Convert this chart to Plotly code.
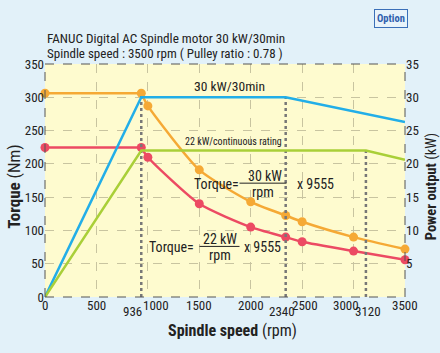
import plotly.graph_objects as go

# ---- data ----
speed_pts = [0, 936, 1000, 1500, 2000, 2340, 2500, 3000, 3500]
torque_30min = [306, 306, 287, 191, 143, 122.5, 113, 90, 72]
torque_cont = [224.5, 224.5, 210, 140, 105, 90, 83, 69, 56]

power_30min_x = [0, 936, 2340, 3500]
power_30min_y = [0, 30, 30, 26.3]
power_cont_x = [0, 936, 3120, 3500]
power_cont_y = [0, 22, 22, 20.6]

marker_x = [936, 2340, 3120]
marker_top_kw = [30.6, 30, 22]

x_ticks = [0, 500, 1000, 1500, 2000, 2500, 3000, 3500]
y_ticks = [0, 50, 100, 150, 200, 250, 300, 350]
y2_ticks = [5, 10, 15, 20, 25, 30, 35]

FONT = "Roboto Condensed, Liberation Sans Narrow, Arial Narrow, sans-serif"
ORANGE = "#f5a935"
RED = "#ec4a63"
BLUE = "#22aee8"
GREEN = "#a9cf38"
DOT = "#777777"
TXT = "#222222"

# label nudges (pixels) to mimic the reference's label placement
X_LABEL_SHIFT = {1000: 8, 2500: 3, 3000: -8}
LOW_LABEL_SHIFT = {936: -9, 2340: -4, 3120: 2}

fig = go.Figure()

# dotted vertical markers (on power axis)
for xv, top in zip(marker_x, marker_top_kw):
    fig.add_trace(go.Scatter(x=[xv, xv], y=[0, top], yaxis="y2", mode="lines",
                             line=dict(color=DOT, width=2.5, dash="dot"),
                             hoverinfo="skip", showlegend=False))

# power lines
fig.add_trace(go.Scatter(x=power_30min_x, y=power_30min_y, yaxis="y2", mode="lines",
                         line=dict(color=BLUE, width=2.5), showlegend=False))
fig.add_trace(go.Scatter(x=power_cont_x, y=power_cont_y, yaxis="y2", mode="lines",
                         line=dict(color=GREEN, width=2.5), showlegend=False))

# torque curves: flat part + hyperbolic part
for vals, col in [(torque_30min, ORANGE), (torque_cont, RED)]:
    fig.add_trace(go.Scatter(x=speed_pts[:2], y=vals[:2], mode="lines",
                             line=dict(color=col, width=2.5), showlegend=False))
    fig.add_trace(go.Scatter(x=speed_pts[1:], y=vals[1:], mode="lines",
                             line=dict(color=col, width=2.5, shape="spline", smoothing=0.6),
                             showlegend=False))
    fig.add_trace(go.Scatter(x=speed_pts, y=vals, mode="markers",
                             marker=dict(color=col, size=9), cliponaxis=False,
                             showlegend=False))

ann = []
# x tick labels
for xv in x_ticks:
    ann.append(dict(x=xv, y=0, xref="x", yref="paper", text=str(xv), showarrow=False,
                    yanchor="middle", yshift=-8, xshift=X_LABEL_SHIFT.get(xv, 0),
                    font=dict(size=13, color=TXT)))
# lower tick labels for special speeds
for xv in marker_x:
    ann.append(dict(x=xv, y=0, xref="x", yref="paper", text=str(xv), showarrow=False,
                    yanchor="middle", yshift=-14, xshift=LOW_LABEL_SHIFT.get(xv, 0),
                    font=dict(size=13, color=TXT)))

FS = 14
ann += [
    dict(x=1794, y=317, text="30 kW/30min", showarrow=False, font=dict(size=13.5, color=TXT)),
    dict(x=1830, y=234, text="22 kW/continuous rating", showarrow=False,
         font=dict(size=10, color=TXT)),
    dict(x=1670, y=169, text="Torque=", showarrow=False, font=dict(size=FS, color=TXT)),
    dict(x=2140, y=182, text="30 kW", showarrow=False, font=dict(size=FS, color=TXT)),
    dict(x=2124, y=157, text="rpm", showarrow=False, font=dict(size=FS, color=TXT)),
    dict(x=2630, y=169, text="x 9555", showarrow=False, font=dict(size=FS, color=TXT)),
    dict(x=1225, y=74.5, text="Torque=", showarrow=False, font=dict(size=FS, color=TXT)),
    dict(x=1697, y=87, text="22 kW", showarrow=False, font=dict(size=FS, color=TXT)),
    dict(x=1697, y=63, text="rpm", showarrow=False, font=dict(size=FS, color=TXT)),
    dict(x=2110, y=74.5, text="x 9555", showarrow=False, font=dict(size=FS, color=TXT)),
    # header
    dict(x=0, y=1.11, xref="paper", yref="paper", xanchor="left", yanchor="middle",
         text="FANUC Digital AC Spindle motor 30 kW/30min", showarrow=False,
         font=dict(size=13.2, color=TXT)),
    dict(x=0, y=1.047, xref="paper", yref="paper", xanchor="left", yanchor="middle",
         text="Spindle speed : 3500 rpm ( Pulley ratio : 0.78 )", showarrow=False,
         font=dict(size=13, color=TXT)),
    dict(x=0.96, y=1.195, xref="paper", yref="paper", xanchor="center", yanchor="middle",
         text="<b>Option</b>", showarrow=False, bordercolor="#3a6fb8", borderwidth=1,
         borderpad=2, bgcolor="#e8f3fa", font=dict(size=10.5, color="#2f5fae")),
    # axis titles
    dict(x=0.52, y=-0.145, xref="paper", yref="paper", xanchor="center", yanchor="middle",
         text="<b>Spindle speed</b> (rpm)", showarrow=False, font=dict(size=16, color=TXT)),
    dict(x=-0.085, y=0.475, xref="paper", yref="paper", xanchor="center", yanchor="middle",
         text="<b>Torque</b> (Nm)", textangle=-90, showarrow=False,
         font=dict(size=17, color=TXT)),
    dict(x=1.072, y=0.475, xref="paper", yref="paper", xanchor="center", yanchor="middle",
         text="<b>Power output</b> (kW)", textangle=-90, showarrow=False,
         font=dict(size=14.5, color=TXT)),
]

shapes = [
    dict(type="line", xref="x", yref="y", x0=1891, x1=2348, y0=171, y1=171,
         line=dict(color=TXT, width=1)),
    dict(type="line", xref="x", yref="y", x0=1502, x1=1891, y0=76, y1=76,
         line=dict(color=TXT, width=1)),
    # dashed border
    dict(type="line", xref="paper", yref="paper", x0=0, x1=1, y0=1, y1=1,
         line=dict(color="#555", width=1, dash="dash")),
    dict(type="line", xref="paper", yref="paper", x0=0, x1=1, y0=0, y1=0,
         line=dict(color="#555", width=1, dash="dash")),
    dict(type="line", xref="paper", yref="paper", x0=0, x1=0, y0=0, y1=1,
         line=dict(color="#555", width=1, dash="dash")),
    dict(type="line", xref="paper", yref="paper", x0=1, x1=1, y0=0, y1=1,
         line=dict(color="#555", width=1, dash="dash")),
]

fig.update_layout(
    width=440, height=353,
    margin=dict(l=45, r=35, t=64, b=56),
    paper_bgcolor="#e2f1f9",
    plot_bgcolor="#fefbcf",
    font=dict(family=FONT, size=13, color=TXT),
    showlegend=False,
    annotations=ann,
    shapes=shapes,
    xaxis=dict(range=[0, 3500], tickvals=x_ticks, showticklabels=False,
               showgrid=True, gridcolor="#c8c4a0", griddash="dash", gridwidth=1,
               zeroline=False, showline=False, ticks="", automargin=False),
    yaxis=dict(range=[0, 350], tickvals=y_ticks, ticktext=[str(v) for v in y_ticks],
               showgrid=True, gridcolor="#c8c4a0", griddash="dash", gridwidth=1,
               zeroline=False, showline=False, ticks="", tickfont=dict(size=13),
               automargin=False),
    yaxis2=dict(range=[0, 35], overlaying="y", side="right", tickvals=y2_ticks,
                ticktext=[str(v) for v in y2_ticks], showgrid=False, zeroline=False,
                ticks="", tickfont=dict(size=13), automargin=False),
)

fig.write_html("out.html", config={"displayModeBar": False},
               post_script="document.body.style.margin='0';document.body.style.background='#e2f1f9';")
